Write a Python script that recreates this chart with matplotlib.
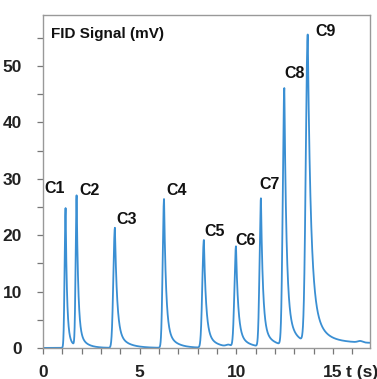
import numpy as np
import matplotlib
matplotlib.use("Agg")
import matplotlib.pyplot as plt
from matplotlib.ticker import MultipleLocator

# peak table
peak_names = ["C1", "C2", "C3", "C4", "C5", "C6", "C7", "C8", "C9"]
peak_times = [1.17, 1.74, 3.72, 6.26, 8.32, 9.98, 11.27, 12.48, 13.69]
peak_heights = [24.8, 26.7, 21.3, 26.4, 19.1, 17.9, 26.3, 45.6, 54.6]
rise_widths = [0.05, 0.05, 0.08, 0.07, 0.08, 0.08, 0.07, 0.08, 0.1]
tail_fast = [0.07, 0.08, 0.11, 0.1, 0.11, 0.11, 0.1, 0.11, 0.15]
mid_frac = [0.1, 0.12, 0.15, 0.14, 0.15, 0.15, 0.12, 0.12, 0.2]
tail_mid = [0.3, 0.35, 0.5, 0.45, 0.5, 0.5, 0.5, 0.45, 0.45]
long_frac = [0.0, 0.0, 0.0, 0.0, 0.003, 0.005, 0.015, 0.02, 0.018]
tail_long = [1.0, 1.0, 1.0, 1.0, 1.0, 1.0, 1.5, 2.0, 15.0]
# small bumps in the baseline
bump_times = [9.6, 16.4]
bump_heights = [0.35, 0.25]

# label anchor points (data coords)
label_x = [0.6, 2.4, 4.3, 6.9, 8.9, 10.5, 11.7, 13.0, 14.6]
label_y = [28.3, 28.0, 22.8, 28.0, 20.6, 19.0, 29.0, 48.6, 56.1]


def chromatogram(t):
    y = np.zeros_like(t)
    for i in range(len(peak_times)):
        dt = t - peak_times[i]
        h = peak_heights[i]
        a, c = mid_frac[i], long_frac[i]
        left = h * np.exp(-dt ** 2 / (2 * rise_widths[i] ** 2))
        dtp = np.clip(dt, 0, None)
        right = h * ((1 - a - c) * np.exp(-dtp / tail_fast[i])
                     + a * np.exp(-dtp / tail_mid[i])
                     + c * np.exp(-dtp / tail_long[i]))
        y += np.where(dt < 0, left, right)
    for t0, h in zip(bump_times, bump_heights):
        y += h * np.exp(-(t - t0) ** 2 / (2 * 0.12 ** 2))
    return y


t = np.linspace(0, 16.9, 5000)
sig = chromatogram(t)

plt.rcParams['font.family'] = ['Liberation Sans Narrow', 'Liberation Sans', 'DejaVu Sans']

fig = plt.figure(figsize=(3.77, 3.79), dpi=100)
ax = fig.add_axes([0.114, 0.082, 0.867, 0.878])
ax.plot(t, sig, color='#3a8fd3', linewidth=1.3)

for name, x, y in zip(peak_names, label_x, label_y):
    ax.text(x, y, name, ha='center', va='center', fontsize=11.5,
            fontweight='bold', color='#111111')

ax.text(0.025, 0.965, 'FID Signal (mV)', transform=ax.transAxes, ha='left', va='top',
        fontsize=11, fontweight='bold', color='#111111')

ax.set_xlim(0, 16.9)
ax.set_ylim(0, 59)
ax.xaxis.set_major_locator(MultipleLocator(5))
ax.xaxis.set_minor_locator(MultipleLocator(1))
ax.yaxis.set_major_locator(MultipleLocator(10))
ax.yaxis.set_minor_locator(MultipleLocator(5))
ax.set_xticks([0, 5, 10, 15])
ax.set_xticklabels(['0', '5', '10', '15'])

for sp in ax.spines.values():
    sp.set_color('#999999')
    sp.set_linewidth(1.0)

ax.tick_params(which='both', direction='out', color='#777777', width=0.9)
ax.tick_params(which='major', length=4, labelsize=12.5, labelcolor='#222222')
ax.tick_params(which='minor', length=4)
ax.tick_params(axis='y', pad=11)
ax.tick_params(axis='x', pad=8)
for lab in ax.get_xticklabels() + ax.get_yticklabels():
    lab.set_fontweight('bold')

ax.text(16.5, -0.075, 't (s)', transform=ax.get_xaxis_transform(), ha='center',
        va='center', fontsize=12.5, fontweight='bold', color='#222222')

fig.savefig('out.png', dpi=100)
